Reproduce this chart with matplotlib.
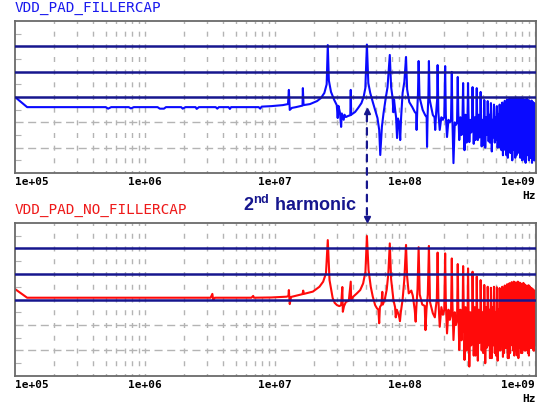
import numpy as np
import matplotlib.pyplot as plt
from matplotlib.patches import ConnectionPatch
from matplotlib.ticker import NullLocator

plt.rcParams['lines.scale_dashes'] = False
plt.rcParams['mathtext.fontset'] = 'custom'
plt.rcParams['mathtext.rm'] = 'Liberation Sans:bold'

F1 = 25.5  # fundamental (MHz)

# explicit trace points below the 7th harmonic: frequency (MHz), level
top_f = [0.1, 0.124, 0.5, 0.52, 0.55, 0.75, 0.78, 0.82, 1.25, 1.3, 1.4, 1.45,
         1.9, 1.95, 2.05, 2.45, 2.5, 2.6, 3.5, 3.6, 3.7, 4.4, 4.5, 4.6, 7.5,
         7.7, 7.9, 9.4, 11.5, 12.6, 12.8, 13.0, 13.5, 14.5, 15.6, 16.3, 16.4,
         16.6, 18.6, 21.1, 22.6, 24.0, 25.0, 25.5, 26.0, 27.0, 28.6, 29.9,
         30.4, 30.8, 31.6, 32.3, 32.7, 33.8, 34.3, 35.2, 36.5, 38.0, 38.3,
         38.6, 41.4, 43.7, 46.3, 48.1, 49.6, 51.0, 52.3, 54.1, 56.6, 59.0,
         61.5, 63.4, 64.6, 66.5, 68.5, 71.4, 73.5, 76.5, 78.3, 80.4, 81.5,
         82.5, 83.8, 85.5, 87.0, 88.5, 90.5, 92.0, 93.5, 96.0, 99.0, 102.0,
         104.0, 108.0, 114.0, 119.0, 122.0, 123.0, 124.5, 126.0, 127.5, 129.5,
         137.0, 143.0, 147.0, 148.0, 149.5, 151.5, 153.0, 155.0, 164.0, 169.0,
         171.0, 174.0, 177.0]
top_v = [-30.0, -34.0, -34.0, -34.6, -34.0, -34.0, -34.5, -34.0, -34.0, -34.6,
         -34.6, -34.0, -34.0, -34.6, -34.0, -34.0, -34.7, -34.0, -34.0, -34.6,
         -34.0, -34.0, -34.7, -34.0, -34.0, -34.6, -33.8, -33.6, -33.2, -32.8,
         -27.2, -35.1, -34.3, -34.0, -33.6, -33.4, -26.5, -33.2, -32.8, -31.6,
         -30.4, -28.4, -25.0, -9.5, -23.5, -28.0, -31.2, -33.2, -38.3, -33.5,
         -36.0, -41.8, -36.5, -39.0, -37.0, -37.9, -37.5, -37.2, -27.2, -37.0,
         -35.9, -34.3, -32.4, -30.0, -26.5, -9.3, -24.5, -28.4, -32.0, -35.1,
         -38.3, -43.0, -52.9, -41.8, -36.3, -30.0, -26.1, -13.4, -26.0, -30.4,
         -36.0, -31.0, -34.3, -38.0, -46.2, -38.5, -40.3, -47.0, -38.0, -28.4,
         -24.0, -14.2, -27.0, -32.0, -34.0, -35.9, -36.5, -43.0, -35.0, -29.0,
         -15.8, -30.0, -35.1, -37.1, -38.0, -49.7, -37.0, -30.0, -15.8, -31.0,
         -37.1, -38.0, -43.0, -36.0, -31.0]

# 7th..40th harmonic peaks, and levels between neighbouring harmonics
top_peak = [-17.4, -17.8, -20.1, -22.1, -24.5, -24.5, -26.1, -26.5, -28.0, -31.2,
            -31.6, -32.4, -33.0, -33.6, -33.0, -32.2, -31.5, -31.0, -30.6, -30.4,
            -30.5, -30.2, -30.4, -30.6, -30.3, -30.8, -31.0, -30.6, -31.2, -31.8,
            -31.4, -32.0, -32.5, -33.0]
top_post = [-36, -37, -39, -36, -37, -36, -36, -37, -36, -37, -36, -37, -36, -37,
            -35, -36, -34, -35, -36, -34, -35, -36, -34, -35, -36, -34, -35, -36,
            -35, -34, -36, -35, -36]
top_notch = [-43, -45.8, -56.1, -47, -51, -47.8, -48.5, -47, -49.5, -50, -47.5,
             -51.5, -48, -50, -50, -53, -51, -54, -52, -55, -51, -53, -52, -54,
             -55, -53, -56, -52, -55, -54, -56, -53, -55]
top_mid = [-38, -39, -40, -38, -37, -39, -38, -37, -39, -38, -37, -39, -38, -37,
           -36, -38, -35, -37, -36, -38, -35, -37, -36, -38, -35, -37, -36, -38,
           -35, -37, -36, -38, -36]
top_notch2 = [-39, -40, -41, -45, -48, -44, -47, -46, -49, -45, -48, -46, -47, -49,
              -51, -48, -53, -50, -52, -49, -54, -51, -50, -53, -52, -55, -50, -53,
              -51, -54, -52, -55, -53]
top_pre = [-38, -39, -40, -38, -40, -39, -40, -39, -41, -40, -39, -41, -40, -40,
           -42, -40, -43, -41, -44, -42, -40, -43, -41, -44, -42, -43, -41, -44,
           -42, -43, -41, -44, -42]

bot_f = [0.1, 0.124, 3.2, 3.3, 3.35, 3.45, 6.6, 6.8, 6.9, 9.4, 12.3, 12.7, 12.8,
         13.0, 13.3, 16.3, 16.5, 16.7, 19.6, 22.0, 23.5, 24.7, 25.5, 26.3, 27.8,
         28.8, 30.0, 31.3, 32.3, 33.0, 33.3, 34.0, 35.2, 37.0, 38.3, 38.6, 40.0,
         42.7, 45.3, 47.7, 49.7, 51.0, 52.5, 54.6, 56.6, 59.0, 61.0, 62.5, 63.4,
         64.2, 66.0, 67.0, 67.6, 70.0, 72.5, 74.5, 76.5, 78.3, 81.6, 84.0, 85.0,
         86.5, 88.7, 90.5, 91.6, 93.0, 96.0, 99.0, 102.0, 104.0, 107.0, 112.0,
         115.0, 119.0, 121.0, 122.5, 125.0, 127.5, 130.0, 136.0, 142.0, 144.0,
         146.5, 150.0, 153.0, 156.0, 164.0, 170.0, 173.0, 176.0]
bot_v = [-25.9, -29.3, -29.3, -27.8, -30.2, -29.3, -29.3, -28.6, -29.3, -29.2,
         -28.9, -28.6, -26.3, -31.8, -29.0, -27.9, -26.5, -27.8, -26.9, -25.0,
         -23.0, -19.7, -6.7, -22.4, -29.4, -31.3, -32.2, -32.6, -32.2, -25.1,
         -34.8, -32.6, -30.9, -30.5, -23.0, -30.3, -28.9, -27.6, -26.3, -23.7,
         -19.1, -5.1, -18.4, -25.0, -28.9, -32.2, -33.5, -34.0, -39.3, -33.0,
         -32.0, -27.0, -32.0, -30.0, -26.0, -20.0, -8.0, -22.0, -30.2, -33.0,
         -37.0, -34.0, -35.4, -37.0, -38.5, -35.0, -30.0, -22.0, -8.6, -21.0,
         -27.6, -26.5, -28.5, -34.1, -38.7, -33.0, -26.0, -9.5, -28.0, -32.0,
         -32.5, -42.0, -34.0, -28.0, -9.0, -31.0, -35.4, -37.0, -33.0, -30.0]

bot_peak = [-11.6, -11.9, -13.9, -16.1, -16.9, -17.8, -19.1, -21.0, -22.4, -24.3,
            -25.0, -25.4, -25.0, -25.2, -25.5, -25.0, -24.5, -24.0, -23.6, -23.2,
            -23.0, -23.3, -23.0, -23.4, -23.8, -23.5, -24.2, -24.6, -24.4, -25.0,
            -25.5, -26.0, -26.5, -27.0]
bot_post = [-30, -31, -31, -32, -31, -32, -31, -32, -31, -32, -31, -32, -31, -32,
            -30, -31, -32, -30, -31, -32, -30, -31, -32, -30, -31, -32, -30, -31,
            -32, -30, -31, -32, -31]
bot_notch = [-40.7, -43.3, -45.9, -49.8, -53.7, -56.3, -52, -54, -50, -55, -48,
             -53, -51, -54, -50, -52.5, -49, -53, -51, -48, -52, -50, -53, -49,
             -51, -47.5, -50, -48, -52, -49, -47, -50, -48]
bot_mid = [-33, -34, -35, -34, -33, -35, -33, -34, -35, -33, -34, -33, -35, -34,
           -33, -35, -32, -34, -33, -35, -32, -34, -33, -35, -32, -34, -33, -35,
           -32, -34, -33, -35, -33]
bot_notch2 = [-36, -38, -40, -46, -50, -48, -52, -47, -51, -49, -53, -48, -52, -50,
              -47, -51, -49, -53, -46, -50, -48, -52, -49, -51, -47, -50, -48, -51,
              -46, -49, -47, -50, -46]
bot_pre = [-34, -36, -38, -40, -41, -42, -41, -43, -42, -44, -41, -43, -42, -44,
           -40, -43, -41, -44, -42, -40, -43, -41, -44, -42, -40, -43, -41, -44,
           -42, -40, -43, -41, -42]

xticks = [1e5, 1e6, 1e7, 1e8, 1e9]
xlabels = ['1e+05', '1e+06', '1e+07', '1e+08', '1e+09']
navy_levels = [-10, -20, -30]
grey_levels = [-40, -50]


def trace(f_low, v_low, peak, gaps):
    f = list(f_low)
    v = list(v_low)
    steps = (0.1, 0.28, 0.5, 0.7, 0.88)
    for i, p in enumerate(peak):
        fn = (7 + i) * F1
        f.append(fn)
        v.append(p)
        if i < len(gaps[0]):
            r = (8 + i) / (7 + i)
            for t, arr in zip(steps, gaps):
                f.append(fn * r ** t)
                v.append(arr[i])
    return np.array(f) * 1e6, np.array(v)


navy = '#16168e'
grid_c = '#b4b4b4'

fig = plt.figure(figsize=(5.37, 4.08), dpi=100)
ax1 = fig.add_axes([15 / 537, 1 - 173 / 408, 521 / 537, 152 / 408])
ax2 = fig.add_axes([15 / 537, 1 - 376 / 408, 521 / 537, 153 / 408])

for ax, hpx in ((ax1, 152), (ax2, 153)):
    ax.set_xscale('log')
    ax.set_xlim(1e5, 1.02e9)
    ax.set_ylim(-60, 0)
    per = hpx / 12 * 0.72
    on = 3.6
    for dec in xticks:
        for m in range(1, 10):
            x = m * dec
            if 1e5 < x < 1.02e9:
                ax.axvline(x, color=grid_c, lw=1.0, ls=(on / 2, (on, per - on)), zorder=1)
    for lv in grey_levels:
        ax.axhline(lv, color=grid_c, lw=1.0, ls=(0, (5.8, 3.3)), zorder=1)
    for lv in navy_levels:
        ax.axhline(lv, color=navy, lw=1.8, zorder=3)
    ax.set_yticks(np.arange(-55, 0, 10))
    ax.tick_params(axis='y', direction='in', length=4, color=grid_c, labelleft=False)
    ax.xaxis.set_minor_locator(NullLocator())
    ax.set_xticks(xticks)
    ax.set_xticklabels(xlabels, family='DejaVu Sans Mono', fontweight='bold', fontsize=8)
    ax.tick_params(axis='x', length=0, pad=3)
    labs = ax.get_xticklabels()
    labs[0].set_ha('left')
    labs[-1].set_ha('right')
    for s in ax.spines.values():
        s.set_color('#6a6a6a')
        s.set_linewidth(1.3)
    ax.text(1.0, -0.15, 'Hz', transform=ax.transAxes, ha='right', va='center',
            family='DejaVu Sans Mono', fontweight='bold', fontsize=8)

f_top, v_top = trace(top_f, top_v, top_peak,
                     (top_post, top_notch, top_mid, top_notch2, top_pre))
f_bot, v_bot = trace(bot_f, bot_v, bot_peak,
                     (bot_post, bot_notch, bot_mid, bot_notch2, bot_pre))
ax1.plot(f_top, v_top, color='#0a0aff', lw=1.5, zorder=2)
ax2.plot(f_bot, v_bot, color='#ff0a0a', lw=1.5, zorder=2)

fig.text(15 / 537, 1 - 8 / 408, 'VDD_PAD_FILLERCAP', color='#1a1aee',
         family='DejaVu Sans Mono', fontsize=10.4, va='center')
fig.text(15 / 537, 1 - 210 / 408, 'VDD_PAD_NO_FILLERCAP', color='#ee1a1a',
         family='DejaVu Sans Mono', fontsize=10.4, va='center')
fig.text(300 / 537, 1 - 210.5 / 408, r'2$^{\mathrm{nd}}$ harmonic', color=navy,
         family='Liberation Sans', fontweight='bold', fontsize=13,
         ha='center', va='baseline')

# dashed arrow marking the 2nd harmonic in both traces
f2 = 2 * F1 * 1e6
con = ConnectionPatch(xyA=(f2, -37.0), coordsA=ax1.transData,
                      xyB=(f2, 2.6), coordsB=ax2.transData,
                      color=navy, lw=1.6, ls=(0, (4.8, 4.8)), zorder=5)
fig.add_artist(con)
ax1.plot([f2], [-35.6], marker='^', ms=5, color=navy, clip_on=False, zorder=5)
ax2.plot([f2], [1.4], marker='v', ms=5, color=navy, clip_on=False, zorder=5)

fig.savefig('out.png', dpi=100)
